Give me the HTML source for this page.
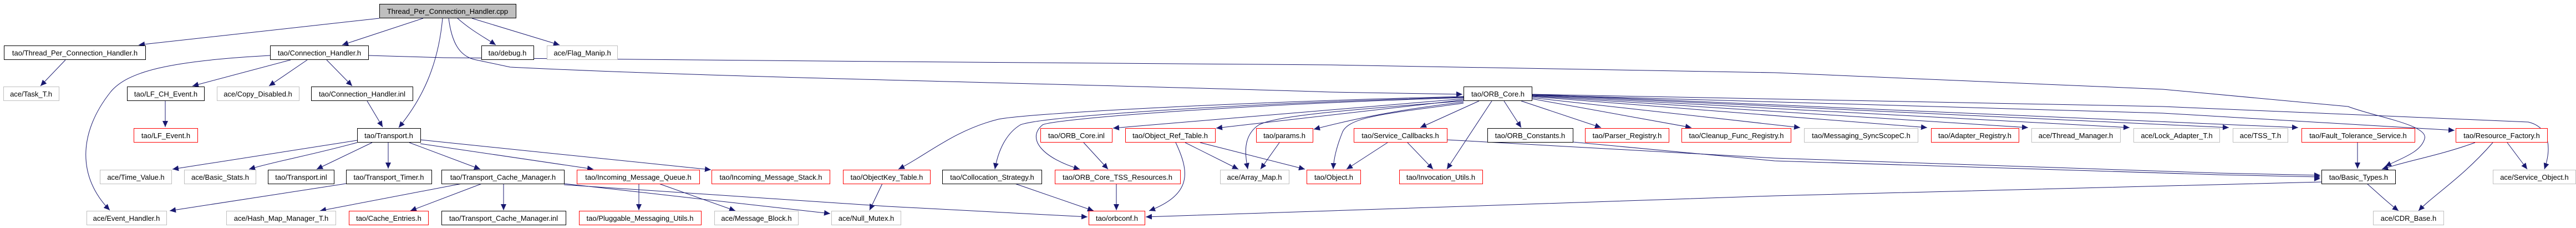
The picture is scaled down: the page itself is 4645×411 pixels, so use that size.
<!DOCTYPE html>
<html><head><meta charset="utf-8"><style>
html,body{margin:0;padding:0;background:#fff;width:4645px;height:411px;overflow:hidden}
svg text{font-family:"Liberation Sans",sans-serif;font-size:13px;fill:#000}
</style></head><body>
<svg width="4645" height="411" viewBox="0 0 4645 411" xmlns="http://www.w3.org/2000/svg">
<defs>
<marker id="a" markerUnits="userSpaceOnUse" markerWidth="12" markerHeight="10" refX="11" refY="5" orient="auto">
<path d="M0,0 L11,5 L0,10 Z" fill="#191970"/></marker>
</defs>
<g fill="none" stroke="#191970" stroke-width="1" marker-end="url(#a)">
<!-- cpp edges -->
<path d="M684,33 L250,81"/>
<path d="M763,33 L617,81"/>
<path d="M798,33 C790,120 760,180 719,230"/>
<path d="M825,33 C850,55 870,65 894,81"/>
<path d="M851,33 L1009,81"/>
<path d="M809,33 C815,80 830,100 854,107 L920,121 C1300,140 1900,150 2400,166 L2637,170"/>
<!-- Connection_Handler.h -->
<path d="M664,100 L800,104 L1600,111 L2400,117 L3200,131 L3900,161 L4234,192 C4280,210 4380,225 4372,250 C4365,275 4330,285 4301,300"/>
<path d="M487,100 C300,110 230,130 200,165 C140,240 140,320 198,379"/>
<path d="M524,108 L347,155"/>
<path d="M554,108 L485,155"/>
<path d="M589,108 L635,155"/>
<path d="M118,108 L73,155"/>
<path d="M298,182 L298,229"/>
<path d="M662,182 L690,229"/>
<!-- Transport.h -->
<path d="M644,253 L311,305"/>
<path d="M644,257 C560,280 500,290 449,305"/>
<path d="M671,257 L571,305"/>
<path d="M700,257 L700,304"/>
<path d="M738,257 L866,305"/>
<path d="M758,259 L1070,305"/>
<path d="M758,252 L1282,306"/>
<!-- row4 -> row5 -->
<path d="M624,331 L306,380"/>
<path d="M833,331 L577,380"/>
<path d="M869,331 L740,380"/>
<path d="M908,331 L908,379"/>
<path d="M1017,331 L1497,385"/>
<path d="M1017,333 L1600,372 L1961,391"/>
<path d="M1152,331 L1152,379"/>
<path d="M1188,331 L1326,380"/>
<path d="M1591,331 L1568,379"/>
<path d="M1830,331 L1972,380"/>
<path d="M2013,331 L2013,379"/>
<path d="M1954,257 L1998,305"/>
<path d="M2120,257 C2145,310 2150,350 2072,380"/>
<path d="M2137,257 L2233,305"/>
<path d="M2164,257 L2353,305"/>
<path d="M2307,257 L2273,305"/>
<path d="M2502,257 L2428,305"/>
<path d="M2538,257 L2584,305"/>
<path d="M4251,257 L4251,304"/>
<path d="M4463,257 C4400,280 4340,290 4295,305"/>
<path d="M4495,257 C4440,320 4390,350 4361,380"/>
<path d="M4521,257 L4557,305"/>
<path d="M4268,331 C4290,350 4305,365 4325,380"/>
<path d="M4186,328 L3200,353 L2400,380 L2066,391"/>
<path d="M2609,252 L3200,285 L4000,312 L4184,316"/>
<path d="M2836,256 L3200,290 L4000,315 L4184,319"/>
<path d="M1017,329 L1600,360 L2400,372 L3200,340 L4000,318 L4184,322" stroke-opacity="0"/>
<!-- ORB_Core.h outgoing -->
<path d="M2639,174 C2200,185 1850,205 1800,215 C1720,235 1670,280 1620,305"/>
<path d="M2639,175 C2200,188 1880,210 1840,225 C1815,240 1800,270 1794,305"/>
<path d="M2639,176 C2200,190 1900,215 1880,225 C1850,250 1880,285 1947,305"/>
<path d="M2639,178 L2007,231"/>
<path d="M2639,180 L2193,231"/>
<path d="M2639,182 C2400,200 2300,210 2270,225 C2240,245 2245,280 2250,305"/>
<path d="M2639,184 C2500,200 2420,220 2369,233"/>
<path d="M2639,186 C2500,205 2430,210 2420,240 C2410,265 2405,285 2404,305"/>
<path d="M2667,182 L2561,230"/>
<path d="M2690,182 L2609,305"/>
<path d="M2712,182 L2743,230"/>
<path d="M2743,182 L2887,230"/>
<path d="M2762,178 L3050,230"/>
<path d="M2762,176 L3246,230"/>
<path d="M2762,174 L3475,230"/>
<path d="M2762,173 L3657,230"/>
<path d="M2762,172 L3840,230"/>
<path d="M2762,171 L4019,230"/>
<path d="M2762,170 L4144,230"/>
<path d="M2762,171 L3900,204 L4426,235"/>
<path d="M2762,170 L3900,192 L4559,220 C4600,230 4600,270 4588,305"/>
</g>
<!-- nodes -->
<g stroke-width="1">
<rect x="684.5" y="7.5" width="246" height="25" fill="#bfbfbf" stroke="#000"/>
<text x="807" y="25" text-anchor="middle">Thread_Per_Connection_Handler.cpp</text>
</g>
<g id="nodes" fill="#fff">
<rect x="7.5" y="82.5" width="255" height="25" stroke="#000"/><text x="135" y="100" text-anchor="middle">tao/Thread_Per_Connection_Handler.h</text>
<rect x="487.5" y="82.5" width="177" height="25" stroke="#000"/><text x="576" y="100" text-anchor="middle">tao/Connection_Handler.h</text>
<rect x="868.5" y="82.5" width="94" height="25" stroke="#000"/><text x="915" y="100" text-anchor="middle">tao/debug.h</text>
<rect x="986.5" y="82.5" width="127" height="25" stroke="#bfbfbf"/><text x="1050" y="100" text-anchor="middle">ace/Flag_Manip.h</text>

<rect x="6.5" y="156.5" width="100" height="25" stroke="#bfbfbf"/><text x="56" y="174" text-anchor="middle">ace/Task_T.h</text>
<rect x="229.5" y="156.5" width="139" height="25" stroke="#000"/><text x="299" y="174" text-anchor="middle">tao/LF_CH_Event.h</text>
<rect x="391.5" y="156.5" width="148" height="25" stroke="#bfbfbf"/><text x="465" y="174" text-anchor="middle">ace/Copy_Disabled.h</text>
<rect x="561.5" y="156.5" width="183" height="25" stroke="#000"/><text x="653" y="174" text-anchor="middle">tao/Connection_Handler.inl</text>
<rect x="2639.5" y="156.5" width="123" height="25" stroke="#000"/><text x="2701" y="174" text-anchor="middle">tao/ORB_Core.h</text>

<rect x="241.5" y="231.5" width="115" height="25" stroke="#f00"/><text x="299" y="249" text-anchor="middle">tao/LF_Event.h</text>
<rect x="644.5" y="231.5" width="114" height="25" stroke="#000"/><text x="701" y="249" text-anchor="middle">tao/Transport.h</text>
<rect x="1876.5" y="231.5" width="129" height="25" stroke="#f00"/><text x="1941" y="249" text-anchor="middle">tao/ORB_Core.inl</text>
<rect x="2029.5" y="231.5" width="162" height="25" stroke="#f00"/><text x="2110" y="249" text-anchor="middle">tao/Object_Ref_Table.h</text>
<rect x="2265.5" y="231.5" width="102" height="25" stroke="#f00"/><text x="2316" y="249" text-anchor="middle">tao/params.h</text>
<rect x="2441.5" y="231.5" width="168" height="25" stroke="#f00"/><text x="2525" y="249" text-anchor="middle">tao/Service_Callbacks.h</text>
<rect x="2682.5" y="231.5" width="154" height="25" stroke="#000"/><text x="2759" y="249" text-anchor="middle">tao/ORB_Constants.h</text>
<rect x="2858.5" y="231.5" width="151" height="25" stroke="#f00"/><text x="2934" y="249" text-anchor="middle">tao/Parser_Registry.h</text>
<rect x="3032.5" y="231.5" width="197" height="25" stroke="#f00"/><text x="3131" y="249" text-anchor="middle">tao/Cleanup_Func_Registry.h</text>
<rect x="3253.5" y="231.5" width="205" height="25" stroke="#bfbfbf"/><text x="3356" y="249" text-anchor="middle">tao/Messaging_SyncScopeC.h</text>
<rect x="3482.5" y="231.5" width="158" height="25" stroke="#f00"/><text x="3561" y="249" text-anchor="middle">tao/Adapter_Registry.h</text>
<rect x="3663.5" y="231.5" width="160" height="25" stroke="#bfbfbf"/><text x="3743" y="249" text-anchor="middle">ace/Thread_Manager.h</text>
<rect x="3847.5" y="231.5" width="155" height="25" stroke="#bfbfbf"/><text x="3925" y="249" text-anchor="middle">ace/Lock_Adapter_T.h</text>
<rect x="4026.5" y="231.5" width="99" height="25" stroke="#bfbfbf"/><text x="4076" y="249" text-anchor="middle">ace/TSS_T.h</text>
<rect x="4150.5" y="231.5" width="204" height="25" stroke="#f00"/><text x="4252" y="249" text-anchor="middle">tao/Fault_Tolerance_Service.h</text>
<rect x="4428.5" y="231.5" width="165" height="25" stroke="#f00"/><text x="4511" y="249" text-anchor="middle">tao/Resource_Factory.h</text>

<rect x="180.5" y="306.5" width="129" height="25" stroke="#bfbfbf"/><text x="245" y="324" text-anchor="middle">ace/Time_Value.h</text>
<rect x="332.5" y="306.5" width="129" height="25" stroke="#bfbfbf"/><text x="397" y="324" text-anchor="middle">ace/Basic_Stats.h</text>
<rect x="483.5" y="306.5" width="119" height="25" stroke="#000"/><text x="543" y="324" text-anchor="middle">tao/Transport.inl</text>
<rect x="624.5" y="306.5" width="154" height="25" stroke="#000"/><text x="701" y="324" text-anchor="middle">tao/Transport_Timer.h</text>
<rect x="796.5" y="306.5" width="221" height="25" stroke="#000"/><text x="907" y="324" text-anchor="middle">tao/Transport_Cache_Manager.h</text>
<rect x="1040.5" y="306.5" width="221" height="25" stroke="#f00"/><text x="1151" y="324" text-anchor="middle">tao/Incoming_Message_Queue.h</text>
<rect x="1283.5" y="306.5" width="213" height="25" stroke="#f00"/><text x="1390" y="324" text-anchor="middle">tao/Incoming_Message_Stack.h</text>
<rect x="1520.5" y="306.5" width="157" height="25" stroke="#f00"/><text x="1599" y="324" text-anchor="middle">tao/ObjectKey_Table.h</text>
<rect x="1699.5" y="306.5" width="179" height="25" stroke="#000"/><text x="1789" y="324" text-anchor="middle">tao/Collocation_Strategy.h</text>
<rect x="1902.5" y="306.5" width="226" height="25" stroke="#f00"/><text x="2015" y="324" text-anchor="middle">tao/ORB_Core_TSS_Resources.h</text>
<rect x="2200.5" y="306.5" width="124" height="25" stroke="#bfbfbf"/><text x="2262" y="324" text-anchor="middle">ace/Array_Map.h</text>
<rect x="2356.5" y="306.5" width="97" height="25" stroke="#f00"/><text x="2405" y="324" text-anchor="middle">tao/Object.h</text>
<rect x="2523.5" y="306.5" width="150" height="25" stroke="#f00"/><text x="2598" y="324" text-anchor="middle">tao/Invocation_Utils.h</text>
<rect x="4186.5" y="306.5" width="133" height="25" stroke="#000"/><text x="4253" y="324" text-anchor="middle">tao/Basic_Types.h</text>
<rect x="4495.5" y="306.5" width="149" height="25" stroke="#bfbfbf"/><text x="4570" y="324" text-anchor="middle">ace/Service_Object.h</text>

<rect x="156.5" y="380.5" width="144" height="25" stroke="#bfbfbf"/><text x="228" y="398" text-anchor="middle">ace/Event_Handler.h</text>
<rect x="408.5" y="380.5" width="197" height="25" stroke="#bfbfbf"/><text x="507" y="398" text-anchor="middle">ace/Hash_Map_Manager_T.h</text>
<rect x="629.5" y="380.5" width="143" height="25" stroke="#f00"/><text x="701" y="398" text-anchor="middle">tao/Cache_Entries.h</text>
<rect x="796.5" y="380.5" width="224" height="25" stroke="#000"/><text x="908" y="398" text-anchor="middle">tao/Transport_Cache_Manager.inl</text>
<rect x="1044.5" y="380.5" width="220" height="25" stroke="#f00"/><text x="1154" y="398" text-anchor="middle">tao/Pluggable_Messaging_Utils.h</text>
<rect x="1288.5" y="380.5" width="151" height="25" stroke="#bfbfbf"/><text x="1364" y="398" text-anchor="middle">ace/Message_Block.h</text>
<rect x="1499.5" y="380.5" width="125" height="25" stroke="#bfbfbf"/><text x="1562" y="398" text-anchor="middle">ace/Null_Mutex.h</text>
<rect x="1963.5" y="380.5" width="101" height="25" stroke="#f00"/><text x="2014" y="398" text-anchor="middle">tao/orbconf.h</text>
<rect x="4279.5" y="380.5" width="127" height="25" stroke="#bfbfbf"/><text x="4343" y="398" text-anchor="middle">ace/CDR_Base.h</text>
</g>
</svg>
</body></html>
